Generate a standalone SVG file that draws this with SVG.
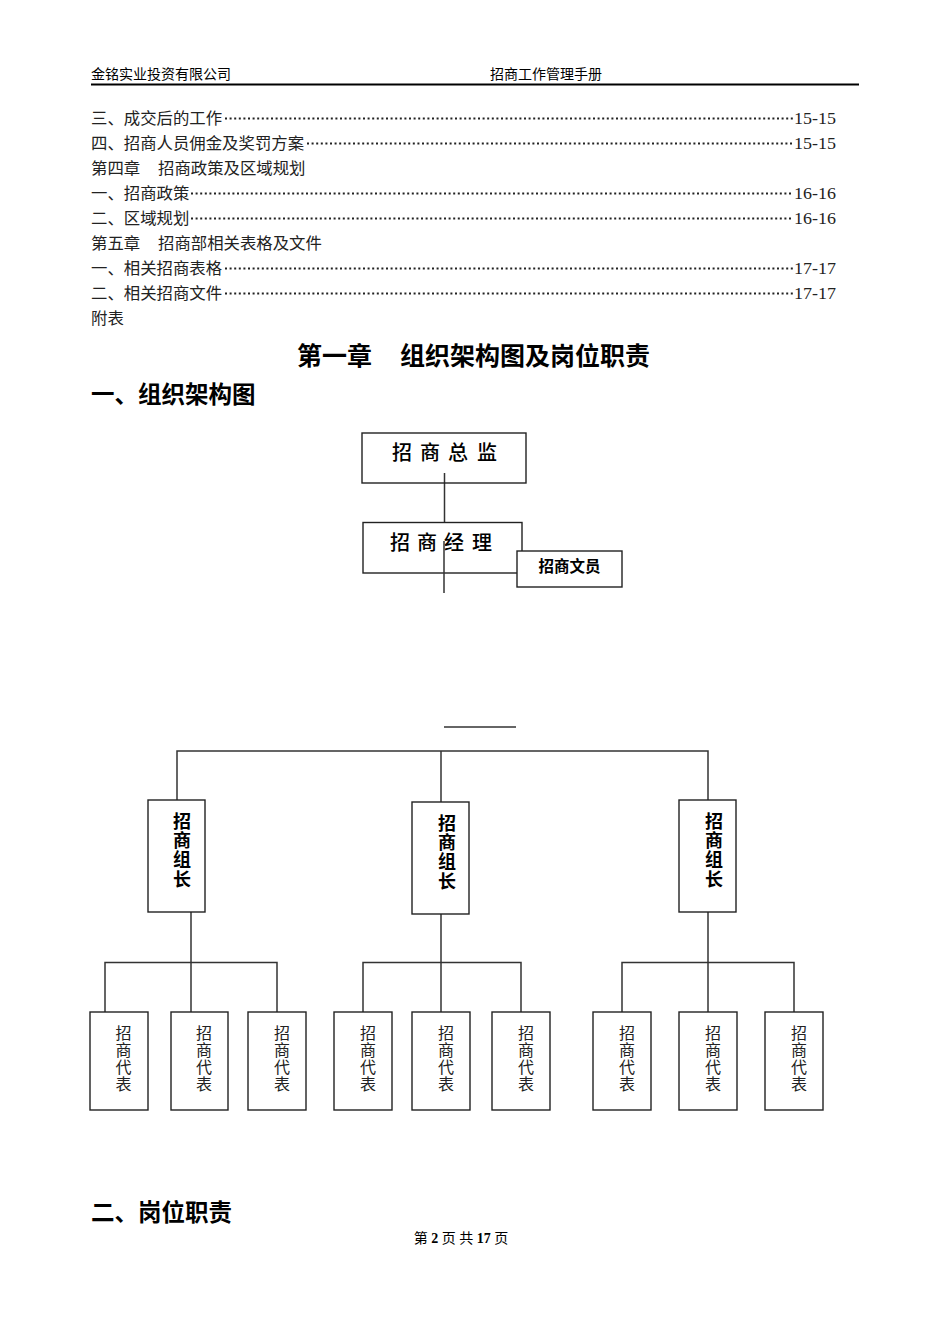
<svg xmlns="http://www.w3.org/2000/svg" width="950" height="1344" viewBox="0 0 950 1344">
<style>
.hd{font-family:"Liberation Serif","Noto Sans CJK SC",serif;font-size:14px;fill:#000}
.toc{font-family:"Liberation Serif","Noto Sans CJK SC",serif;font-size:16.4px;fill:#222}
.num{font-family:"Liberation Serif",serif;font-size:16.4px;fill:#222}
.dots{stroke:#222;stroke-width:2;stroke-dasharray:2 2.6}
.h1{font-family:"Noto Sans CJK SC",sans-serif;font-size:25px;font-weight:bold;fill:#000}
.h2{font-family:"Noto Sans CJK SC",sans-serif;font-size:23.5px;font-weight:bold;fill:#000}
.box{fill:#fff;stroke:#222;stroke-width:1.4}
.ln{stroke:#333;stroke-width:1.5;fill:none}
.big{font-family:"Noto Sans CJK SC",sans-serif;font-size:20px;font-weight:500;fill:#000}
.clerk{font-family:"Noto Sans CJK SC",sans-serif;font-size:15.5px;font-weight:bold;fill:#000}
.lead{font-family:"Noto Sans CJK SC",sans-serif;font-size:18px;font-weight:bold;fill:#000;writing-mode:vertical-rl;letter-spacing:1.3px}
.rep{font-family:"Noto Sans CJK SC",sans-serif;font-size:16px;fill:#222;writing-mode:vertical-rl;letter-spacing:1px}
.ft{font-family:"Liberation Serif","Noto Sans CJK SC",serif;font-size:14px;fill:#000}
</style>
<rect width="950" height="1344" fill="#fff"/>
<g id="header">
<text class="hd" x="91" y="79">金铭实业投资有限公司</text>
<text class="hd" x="490" y="79">招商工作管理手册</text>
<line x1="91" y1="84.5" x2="859" y2="84.5" stroke="#000" stroke-width="2"/>
</g>
<g id="toc">
<text class="toc" x="91" y="124">三、成交后的工作</text>
<line class="dots" x1="225" y1="118.5" x2="793" y2="118.5"/>
<text class="num" x="794" y="124" textLength="42" lengthAdjust="spacingAndGlyphs">15-15</text>
<text class="toc" x="91" y="149">四、招商人员佣金及奖罚方案</text>
<line class="dots" x1="307" y1="143.5" x2="793" y2="143.5"/>
<text class="num" x="794" y="149" textLength="42" lengthAdjust="spacingAndGlyphs">15-15</text>
<text class="toc" x="91" y="174">第四章<tspan x="158">招商政策及区域规划</tspan></text>
<text class="toc" x="91" y="199">一、招商政策</text>
<line class="dots" x1="191" y1="193.5" x2="793" y2="193.5"/>
<text class="num" x="794" y="199" textLength="42" lengthAdjust="spacingAndGlyphs">16-16</text>
<text class="toc" x="91" y="224">二、区域规划</text>
<line class="dots" x1="191" y1="218.5" x2="793" y2="218.5"/>
<text class="num" x="794" y="224" textLength="42" lengthAdjust="spacingAndGlyphs">16-16</text>
<text class="toc" x="91" y="249">第五章<tspan x="158">招商部相关表格及文件</tspan></text>
<text class="toc" x="91" y="274">一、相关招商表格</text>
<line class="dots" x1="225" y1="268.5" x2="793" y2="268.5"/>
<text class="num" x="794" y="274" textLength="42" lengthAdjust="spacingAndGlyphs">17-17</text>
<text class="toc" x="91" y="299">二、相关招商文件</text>
<line class="dots" x1="225" y1="293.5" x2="793" y2="293.5"/>
<text class="num" x="794" y="299" textLength="42" lengthAdjust="spacingAndGlyphs">17-17</text>
<text class="toc" x="91" y="324">附表</text>
</g>
<g id="titles">
<text class="h1" x="297" y="365">第一章<tspan x="400">组织架构图及岗位职责</tspan></text>
<text class="h2" x="91" y="403">一、组织架构图</text>
<text class="h2" x="91" y="1221">二、岗位职责</text>
</g>
<g id="connectors">
<line class="ln" x1="444.5" y1="473" x2="444.5" y2="522"/>
<line class="ln" x1="444" y1="727" x2="516" y2="727"/>
<polyline class="ln" points="177,800 177,751 708,751 708,800"/>
<line class="ln" x1="441" y1="751" x2="441" y2="802"/>
<line class="ln" x1="191" y1="912" x2="191" y2="1012"/>
<line class="ln" x1="441" y1="914" x2="441" y2="1012"/>
<line class="ln" x1="708" y1="912" x2="708" y2="1012"/>
<polyline class="ln" points="105,1012 105,962.5 277,962.5 277,1012"/>
<polyline class="ln" points="363,1012 363,962.5 521,962.5 521,1012"/>
<polyline class="ln" points="622,1012 622,962.5 794,962.5 794,1012"/>
</g>
<g id="director">
<rect class="box" x="362" y="433" width="164" height="50" style="fill:none"/>
<text class="big" y="460"><tspan x="392">招</tspan><tspan x="420">商</tspan><tspan x="448">总</tspan><tspan x="477">监</tspan></text>
</g>
<g id="manager">
<rect class="box" x="363" y="522.5" width="159" height="50.5" style="fill:none"/>
<text class="big" y="550"><tspan x="390">招</tspan><tspan x="417">商</tspan><tspan x="444">经</tspan><tspan x="472">理</tspan></text>
</g>
<g id="manager-line">
<line class="ln" x1="444" y1="541" x2="444" y2="593"/>
</g>
<g id="clerk">
<rect class="box" x="517" y="551" width="105" height="36"/>
<text class="clerk" x="569.5" y="572" text-anchor="middle">招商文员</text>
</g>
<g id="lead1"><rect class="box" x="148" y="800" width="57" height="112"/><text class="lead" x="182" y="812">招商组长</text></g>
<g id="lead2"><rect class="box" x="412" y="802" width="57" height="112"/><text class="lead" x="447" y="814">招商组长</text></g>
<g id="lead3"><rect class="box" x="679" y="800" width="57" height="112"/><text class="lead" x="714" y="812">招商组长</text></g>
<g id="rep1"><rect class="box" x="90" y="1012" width="58" height="98"/><text class="rep" x="123.5" y="1025">招商代表</text></g>
<g id="rep2"><rect class="box" x="171" y="1012" width="57" height="98"/><text class="rep" x="204" y="1025">招商代表</text></g>
<g id="rep3"><rect class="box" x="248" y="1012" width="58" height="98"/><text class="rep" x="282" y="1025">招商代表</text></g>
<g id="rep4"><rect class="box" x="334" y="1012" width="58" height="98"/><text class="rep" x="368" y="1025">招商代表</text></g>
<g id="rep5"><rect class="box" x="412" y="1012" width="58" height="98"/><text class="rep" x="446" y="1025">招商代表</text></g>
<g id="rep6"><rect class="box" x="492" y="1012" width="58" height="98"/><text class="rep" x="526" y="1025">招商代表</text></g>
<g id="rep7"><rect class="box" x="593" y="1012" width="58" height="98"/><text class="rep" x="627" y="1025">招商代表</text></g>
<g id="rep8"><rect class="box" x="679" y="1012" width="58" height="98"/><text class="rep" x="713" y="1025">招商代表</text></g>
<g id="rep9"><rect class="box" x="765" y="1012" width="58" height="98"/><text class="rep" x="799" y="1025">招商代表</text></g>
<g id="footer">
<text class="ft" x="461" y="1243" text-anchor="middle">第 <tspan font-weight="bold">2</tspan> 页 共 <tspan font-weight="bold">17</tspan> 页</text>
</g>
</svg>
